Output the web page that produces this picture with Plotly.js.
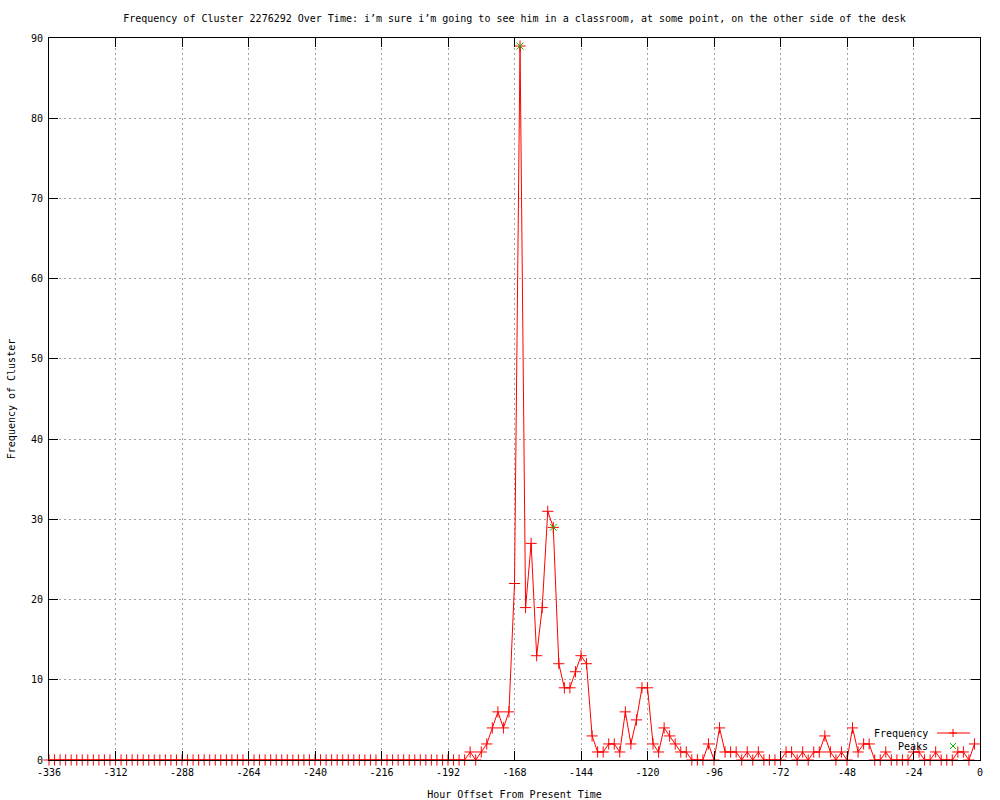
<!DOCTYPE html>
<html>
<head>
<meta charset="utf-8">
<script src="https://cdn.plot.ly/plotly-3.0.1.min.js"></script>
<style>html,body{margin:0;padding:0;background:#fff;}#chart{width:1000px;height:800px;}</style>
</head>
<body>
<div id="chart"></div>
<script>
const hours = [-336,-334,-332,-330,-328,-326,-324,-322,-320,-318,-316,-314,-312,-310,-308,-306,-304,-302,-300,-298,-296,-294,-292,-290,-288,-286,-284,-282,-280,-278,-276,-274,-272,-270,-268,-266,-264,-262,-260,-258,-256,-254,-252,-250,-248,-246,-244,-242,-240,-238,-236,-234,-232,-230,-228,-226,-224,-222,-220,-218,-216,-214,-212,-210,-208,-206,-204,-202,-200,-198,-196,-194,-192,-190,-188,-186,-184,-182,-180,-178,-176,-174,-172,-170,-168,-166,-164,-162,-160,-158,-156,-154,-152,-150,-148,-146,-144,-142,-140,-138,-136,-134,-132,-130,-128,-126,-124,-122,-120,-118,-116,-114,-112,-110,-108,-106,-104,-102,-100,-98,-96,-94,-92,-90,-88,-86,-84,-82,-80,-78,-76,-74,-72,-70,-68,-66,-64,-62,-60,-58,-56,-54,-52,-50,-48,-46,-44,-42,-40,-38,-36,-34,-32,-30,-28,-26,-24,-22,-20,-18,-16,-14,-12,-10,-8,-6,-4,-2];
const frequency = [0,0,0,0,0,0,0,0,0,0,0,0,0,0,0,0,0,0,0,0,0,0,0,0,0,0,0,0,0,0,0,0,0,0,0,0,0,0,0,0,0,0,0,0,0,0,0,0,0,0,0,0,0,0,0,0,0,0,0,0,0,0,0,0,0,0,0,0,0,0,0,0,0,0,0,0,
  1,0,1,2,4,6,4,6,
  22,89,19,27,13,19,31,29,12,9,9,11,
  13,12,3,1,1,2,2,1,6,2,5,9,9,2,1,4,3,2,1,1,0,0,0,2,0,4,1,1,1,0,1,0,1,0,0,0,
  0,1,1,0,1,0,1,1,3,1,0,1,0,4,1,2,2,0,0,1,0,0,0,0,1,1,0,0,1,0,0,0,1,1,0,2];
const peakHours = [-166, -154];
const peakValues = [89, 29];
const xTicks = [-336,-312,-288,-264,-240,-216,-192,-168,-144,-120,-96,-72,-48,-24,0];
const yTicks = [0,10,20,30,40,50,60,70,80,90];
const titleText = "Frequency of Cluster 2276292 Over Time: i’m sure i’m going to see him in a classroom, at some point, on the other side of the desk";
const legendNames = ["Frequency", "Peaks"];

const FONT = "DejaVu Sans Mono, monospace";
const RED = "#ff0000";
const GREEN = "#00c000";

const traces = [
  {x: hours, y: frequency, type: "scatter", mode: "lines+markers", name: legendNames[0],
   line: {color: RED, width: 1}, marker: {symbol: "cross-thin", size: 8, color: RED, line: {color: RED, width: 1}},
   cliponaxis: false, showlegend: false},
  {x: peakHours, y: peakValues, type: "scatter", mode: "markers", name: legendNames[1],
   marker: {symbol: "x-thin", size: 7, color: GREEN, line: {color: GREEN, width: 1}},
   cliponaxis: false, showlegend: false}
];

// custom gnuplot-like key (paper coordinates)
const W = 931, H = 722;
function px(x){ return (x-49)/W; }
function py(y){ return (760-y)/H; }
const shapes = [
  {type:"line", xref:"paper", yref:"paper", x0:px(937), x1:px(970), y0:py(733), y1:py(733), line:{color:RED,width:1}},
  {type:"line", xref:"paper", yref:"paper", x0:px(949), x1:px(957), y0:py(733), y1:py(733), line:{color:RED,width:1}},
  {type:"line", xref:"paper", yref:"paper", x0:px(953), x1:px(953), y0:py(729), y1:py(737), line:{color:RED,width:1}},
  {type:"line", xref:"paper", yref:"paper", x0:px(950), x1:px(956), y0:py(743), y1:py(749), line:{color:GREEN,width:1}},
  {type:"line", xref:"paper", yref:"paper", x0:px(950), x1:px(956), y0:py(749), y1:py(743), line:{color:GREEN,width:1}}
];
const annotations = [
  {xref:"paper", yref:"paper", x:px(930), y:py(733), xanchor:"right", yanchor:"middle", showarrow:false,
   text:legendNames[0], font:{family:FONT, size:10, color:"#000"}},
  {xref:"paper", yref:"paper", x:px(930), y:py(746), xanchor:"right", yanchor:"middle", showarrow:false,
   text:legendNames[1], font:{family:FONT, size:10, color:"#000"}}
];

const axisCommon = {
  showline: true, linecolor: "#000", linewidth: 1, mirror: "ticks",
  ticks: "inside", ticklen: 9, tickcolor: "#000", tickwidth: 1,
  showgrid: true, gridcolor: "#a0a0a0", gridwidth: 1, griddash: "2px,3px",
  zeroline: false, tickfont: {family: FONT, size: 10, color: "#000"}, fixedrange: true
};

const layout = {
  width: 1000, height: 800,
  margin: {l: 49, r: 20, t: 38, b: 40},
  paper_bgcolor: "#fff", plot_bgcolor: "#fff",
  title: {text: titleText, font: {family: FONT, size: 10, color: "#000"}, x: 0.5, xref: "paper", y: 1 - 18/800, yref: "container", yanchor: "middle"},
  xaxis: Object.assign({}, axisCommon, {range: [-336, 0], tickvals: xTicks, ticktext: xTicks.map(String), ticklabelstandoff: 3,
    title: {text: "Hour Offset From Present Time", font: {family: FONT, size: 10, color: "#000"}, standoff: 14}}),
  yaxis: Object.assign({}, axisCommon, {range: [0, 90], tickvals: yTicks, ticktext: yTicks.map(String), ticklabelstandoff: 3,
    title: {text: "Frequency of Cluster", font: {family: FONT, size: 10, color: "#000"}, standoff: 13}}),
  shapes: shapes, annotations: annotations, showlegend: false
};

Plotly.newPlot("chart", traces, layout, {displayModeBar: false, staticPlot: true});
</script>
</body>
</html>
